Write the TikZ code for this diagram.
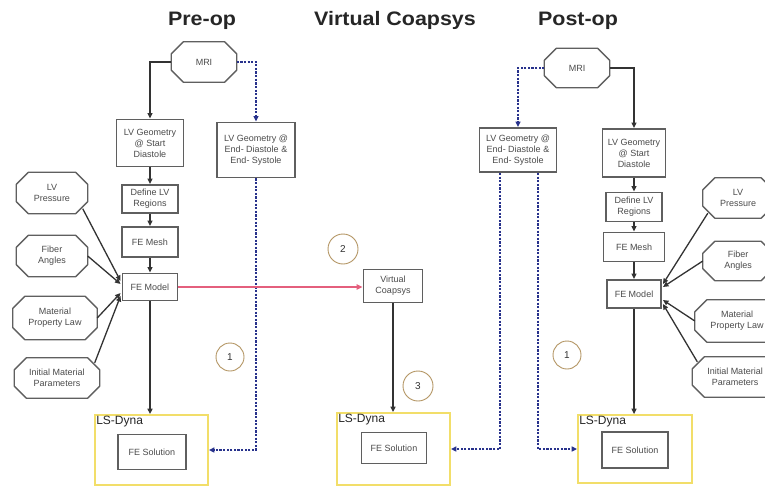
\documentclass[tikz,border=0pt]{standalone}
\usepackage{fontspec}
\setmainfont{Liberation Sans}
\newfontfamily\titlefont[FakeStretch=1.1]{Liberation Sans}
\usetikzlibrary{arrows.meta,calc}
\definecolor{boxline}{RGB}{95,95,95}
\definecolor{txt}{RGB}{75,75,75}
\definecolor{dashblue}{RGB}{40,50,140}
\definecolor{redline}{RGB}{228,95,125}
\definecolor{yel}{RGB}{242,222,105}
\definecolor{circ}{RGB}{180,150,100}
\begin{document}
\begin{tikzpicture}[x=1pt,y=-1pt,
 box/.style={draw=boxline,line width=1.9pt,fill=white,align=center,text=txt,font=\fontsize{9}{11}\selectfont,inner sep=1pt},
 oct/.style={rectangle,draw=none,align=center,text=txt,font=\fontsize{9}{11}\selectfont,inner sep=0pt,
   append after command={\pgfextra{\let\octn\tikzlastnode
     \draw[draw=boxline,line width=1.3pt,line join=round]
       ($(\octn.north west)+(12,0)$) -- ($(\octn.north east)+(-12,0)$)
       -- ($(\octn.north east)+(0,12)$) -- ($(\octn.south east)+(0,-12)$)
       -- ($(\octn.south east)+(-12,0)$) -- ($(\octn.south west)+(12,0)$)
       -- ($(\octn.south west)+(0,-12)$) -- ($(\octn.north west)+(0,12)$) -- cycle;}}},
 dyna/.style={draw=yel,line width=1.8pt,inner sep=0pt},
 dynalabel/.style={font=\fontsize{12}{13}\selectfont,text=black!85,inner sep=0pt,anchor=north west},
 num/.style={circle,draw=circ,line width=0.9pt,minimum size=28pt,font=\fontsize{10}{12}\selectfont,text=black!80,inner sep=0pt},
 title/.style={font=\titlefont\fontsize{19.5}{22}\selectfont\bfseries,text=black!85,anchor=base},
 arr/.style={-{Triangle[length=5.5pt,width=5pt]},line width=1.3pt,draw=black!80},
 darr/.style={-{Triangle[length=5.5pt,width=5pt]},line width=1.5pt,draw=dashblue,dash pattern=on 2.2pt off 1.4pt},
 rarr/.style={-{Triangle[length=6pt,width=5.5pt]},line width=1.4pt,draw=redline,fill=red}
]
\useasboundingbox[fill=white] (0,0) rectangle (765,487);

% titles
\node[title] (tpre) at (202,26) {Pre-op};
\node[title] (tvc) at (395,26) {Virtual Coapsys};
\node[title] (tpost) at (578,26) {Post-op};

% ---------- Pre-op ----------
\node[oct,minimum width=65pt,minimum height=40pt] (mriL) at (204,62) {MRI};
\node[box,minimum width=67pt,minimum height=47pt] (geoSL) at (150,143) {LV Geometry\\@ Start\\Diastole};
\node[box,minimum width=78pt,minimum height=55pt] (geoEL) at (256,150) {LV Geometry @\\End- Diastole \&\\End- Systole};
\node[box,minimum width=56pt,minimum height=28pt] (defL) at (150,199) {Define LV\\Regions};
\node[box,minimum width=56pt,minimum height=30pt] (meshL) at (150,242) {FE Mesh};
\node[box,minimum width=55pt,minimum height=27pt] (modelL) at (150,287) {FE Model};
\node[oct,minimum width=71pt,minimum height=41pt] (pressL) at (52,193) {LV\\Pressure};
\node[oct,minimum width=71pt,minimum height=41pt] (fiberL) at (52,256) {Fiber\\Angles};
\node[oct,minimum width=84pt,minimum height=43pt] (matL) at (55,318) {Material\\Property Law};
\node[oct,minimum width=85pt,minimum height=40pt] (initL) at (57,378) {Initial Material\\Parameters};
\node[dyna,minimum width=113pt,minimum height=70pt] (dynaL) at (151.5,450) {};
\node[dynalabel] (dynaLt) at ($(dynaL.north west)+(2,2)$) {LS-Dyna};
\node[box,minimum width=68pt,minimum height=35pt] (solL) at (152,452) {FE Solution};
\node[num] (c1L) at (230,357) {1};

\draw[arr] (mriL.west) -| (geoSL.north);
\draw[darr] (mriL.east) -| (geoEL.north);
\draw[arr] (geoSL) -- (defL);
\draw[arr] (defL) -- (meshL);
\draw[arr] (meshL) -- (modelL);
\draw[arr] ($(pressL.south east)+(-5,-5)$) -- ($(modelL.west)+(-1,-6)$);
\draw[arr] (fiberL.east) -- ($(modelL.west)+(-1,-3)$);
\draw[arr] (matL.east) -- ($(modelL.west)+(-1,6)$);
\draw[arr] ($(initL.north east)+(-5,5)$) -- ($(modelL.west)+(-1,9)$);
\draw[arr] (modelL.south) -- (modelL.south |- dynaL.north);
\draw[darr] (geoEL.south) |- (dynaL.east);

% ---------- Virtual Coapsys ----------
\node[box,minimum width=59pt,minimum height=33pt] (vc) at (393,286) {Virtual\\Coapsys};
\node[num,minimum size=30pt] (c2) at (343,249) {2};
\node[num,minimum size=30pt] (c3) at (418,386) {3};
\node[dyna,minimum width=113pt,minimum height=72pt] (dynaM) at (393.5,449) {};
\node[dynalabel] (dynaMt) at ($(dynaM.north west)+(2,2)$) {LS-Dyna};
\node[box,minimum width=65pt,minimum height=31pt] (solM) at (394,448) {FE Solution};
\draw[rarr] (modelL.east) -- (modelL.east -| vc.west);
\draw[arr] (vc.south) -- (vc.south |- dynaM.north);

% ---------- Post-op ----------
\node[oct,minimum width=65pt,minimum height=39pt] (mriR) at (577,68) {MRI};
\node[box,minimum width=77pt,minimum height=44pt] (geoER) at (518,150) {LV Geometry @\\End- Diastole \&\\End- Systole};
\node[box,minimum width=63pt,minimum height=48pt] (geoSR) at (634,153) {LV Geometry\\@ Start\\Diastole};
\node[box,minimum width=56pt,minimum height=29pt] (defR) at (634,207) {Define LV\\Regions};
\node[box,minimum width=61pt,minimum height=29pt] (meshR) at (634,247) {FE Mesh};
\node[box,minimum width=54pt,minimum height=28pt] (modelR) at (634,294) {FE Model};
\node[oct,minimum width=70pt,minimum height=40pt] (pressR) at (738,198) {LV\\Pressure};
\node[oct,minimum width=70pt,minimum height=39pt] (fiberR) at (738,261) {Fiber\\Angles};
\node[oct,minimum width=84pt,minimum height=42pt] (matR) at (737,321) {Material\\Property Law};
\node[oct,minimum width=85pt,minimum height=40pt] (initR) at (735,377) {Initial Material\\Parameters};
\node[dyna,minimum width=114pt,minimum height=68pt] (dynaR) at (635,449) {};
\node[dynalabel] (dynaRt) at ($(dynaR.north west)+(2,2)$) {LS-Dyna};
\node[box,minimum width=66pt,minimum height=36pt] (solR) at (635,450) {FE Solution};
\node[num] (c1R) at (567,355) {1};

\draw[darr] (mriR.west) -| (geoER.north);
\draw[arr] (mriR.east) -| (geoSR.north);
\draw[arr] (geoSR) -- (defR);
\draw[arr] (defR) -- (meshR);
\draw[arr] (meshR) -- (modelR);
\draw[arr] ($(pressR.south west)+(5,-5)$) -- ($(modelR.east)+(1,-10)$);
\draw[arr] (fiberR.west) -- ($(modelR.east)+(1,-7)$);
\draw[arr] (matR.west) -- ($(modelR.east)+(1,6)$);
\draw[arr] ($(initR.north west)+(5,5)$) -- ($(modelR.east)+(1,10)$);
\draw[arr] (modelR.south) -- (modelR.south |- dynaR.north);
\draw[darr] ($(geoER.south)+(-18,0)$) |- (dynaM.east);
\draw[darr] ($(geoER.south)+(20,0)$) |- (dynaR.west);
\end{tikzpicture}
\end{document}
